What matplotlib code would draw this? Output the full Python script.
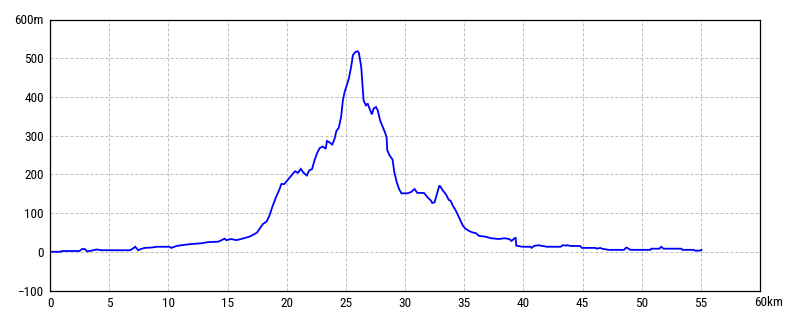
import matplotlib
matplotlib.use("Agg")
import matplotlib.pyplot as plt
import matplotlib.font_manager as fm

# ------------------ profile data (km, m) ------------------ #
dist_km = [
    0.0, 0.9, 1.0, 2.5, 2.7, 2.95, 3.15, 3.5, 3.95, 4.35, 6.75, 6.95, 7.2, 7.45,
    7.65, 8.0, 8.6, 9.0, 10.1, 10.25, 10.7, 11.1, 11.95, 12.8, 13.35, 14.2, 14.5,
    14.75, 14.9, 15.3, 15.75, 16.15, 16.85, 17.3, 17.5, 17.7, 18.0, 18.3, 18.55,
    18.8, 19.1, 19.4, 19.55, 19.8, 20.1, 20.4, 20.7, 20.95, 21.2, 21.4, 21.7,
    21.9, 22.15, 22.35, 22.6, 22.8, 23.05, 23.3, 23.4, 23.6, 23.85, 24.05, 24.2,
    24.4, 24.6, 24.75, 24.9, 25.05, 25.25, 25.45, 25.6, 25.8, 26.0, 26.1, 26.3,
    26.4, 26.5, 26.7, 26.85, 27.0, 27.2, 27.35, 27.55, 27.7, 27.9, 28.1, 28.3,
    28.45, 28.5, 28.7, 28.95, 29.1, 29.3, 29.5, 29.7, 30.2, 30.5, 30.8, 31.05,
    31.6, 31.9, 32.2, 32.3, 32.5, 32.7, 32.9, 33.0, 33.2, 33.45, 33.7, 33.85,
    34.05, 34.3, 34.5, 34.7, 34.9, 35.1, 35.4, 35.7, 36.0, 36.25, 36.8, 37.25,
    37.95, 38.4, 38.8, 39.0, 39.2, 39.35, 39.4, 39.9, 40.6, 40.7, 40.9, 41.25,
    41.6, 42.0, 43.15, 43.35, 43.6, 43.7, 44.0, 44.8, 44.95, 46.1, 46.2, 46.5,
    46.65, 47.2, 48.5, 48.7, 48.85, 49.05, 50.75, 50.8, 51.5, 51.65, 51.85,
    53.35, 53.45, 54.4, 54.5, 54.95, 55.05,
]
elev_m = [
    0, 0, 2, 2, 7, 7, 1, 3, 6, 4, 4, 7, 13, 4,
    7, 10, 11, 13, 13, 10, 15, 17, 20, 22, 25, 26, 30,
    34, 30, 33, 30, 33, 39, 46, 50, 59, 72, 78, 94,
    117, 141, 162, 175, 175, 186, 197, 208, 204, 214, 205, 197,
    210, 214, 236, 257, 268, 272, 266, 286, 283, 277, 292, 312,
    320, 348, 391, 413, 427, 447, 478, 508, 516, 518, 514, 478,
    434, 391, 378, 383, 370, 355, 370, 374, 365, 339, 324, 309,
    295, 262, 249, 238, 205, 180, 162, 151, 151, 154, 162, 152,
    152, 141, 132, 126, 128, 149, 171, 168, 158, 149, 134, 132,
    119, 106, 93, 80, 67, 60, 54, 50, 48, 41, 39, 35,
    33, 35, 33, 28, 33, 37, 16, 13, 13, 10, 15, 17,
    15, 13, 13, 17, 16, 17, 15, 15, 10, 10, 8, 10,
    8, 5, 5, 11, 9, 5, 5, 8, 8, 13, 8,
    8, 5, 5, 3, 3, 5,
]

x_ticks = [0, 5, 10, 15, 20, 25, 30, 35, 40, 45, 50, 55, 60]
x_labels = ["0", "5", "10", "15", "20", "25", "30", "35", "40", "45", "50", "55", ""]
y_ticks = [-100, 0, 100, 200, 300, 400, 500, 600]
y_labels = ["\u2212100", "0", "100", "200", "300", "400", "500", "600m"]

# ------------------ font: a narrow face like the original bitmap font ------------------ #
names = {f.name for f in fm.fontManager.ttflist}
narrow = [n for n in ["Liberation Sans Narrow", "Roboto Condensed", "Open Sans Condensed"] if n in names]
plt.rcParams["font.family"] = narrow + ["DejaVu Sans"]
plt.rcParams["font.stretch"] = "condensed"
plt.rcParams["font.size"] = 9.5

# ------------------ figure ------------------ #
fig = plt.figure(figsize=(8, 3.2), dpi=100)
ax = fig.add_axes([50 / 800, 1 - 290.5 / 320, 710 / 800, 271 / 320])

ax.plot(dist_km, elev_m, color="#0000ff", linewidth=1.3, solid_joinstyle="miter")

ax.set_xlim(0, 60)
ax.set_ylim(-100, 600)
ax.set_xticks(x_ticks)
ax.set_xticklabels(x_labels)
ax.set_yticks(y_ticks)
ax.set_yticklabels(y_labels)
ax.tick_params(length=0, pad=4.5, colors="black")

ax.grid(True, color="#c0c0c0", linewidth=0.75, linestyle=(0, (2.9, 1.9)))
ax.set_axisbelow(True)
for s in ax.spines.values():
    s.set_color("black")
    s.set_linewidth(0.9)

# "60km" label sits with its "60" centred on the last tick
ax.annotate("60km", xy=(60, 0), xycoords=("data", "axes fraction"),
            xytext=(-6, -6), textcoords="offset pixels", ha="left", va="top")

fig.savefig("out.png", dpi=100, facecolor="white")
